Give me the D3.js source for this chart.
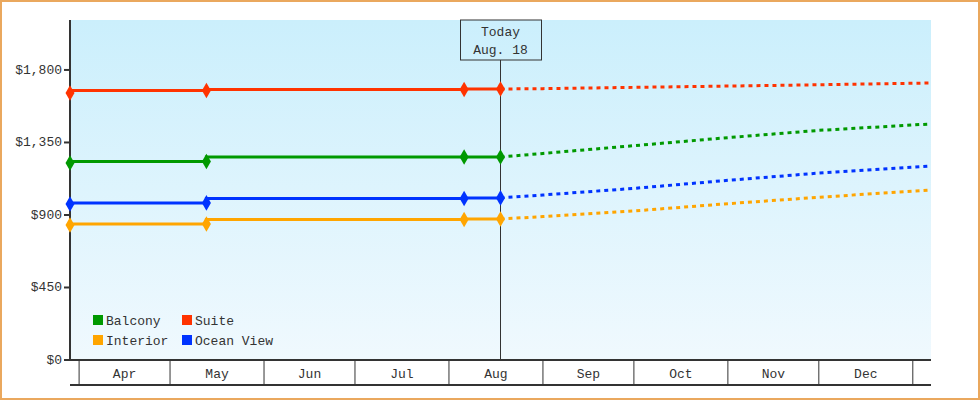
<!DOCTYPE html>
<html lang="en">
<head>
<meta charset="UTF-8">
<style>
    body { margin: 0; }
    svg { display: block; font-family: "Liberation Mono", monospace; font-size: 13px; fill: #333; }
    .frame { fill: #fff; stroke: #eaa85e; stroke-width: 2; }
    .fc { fill: none; stroke-width: 3; stroke-dasharray: 4 4; }
    .hist { fill: none; stroke-width: 3; }
</style>
</head>
<body>
<svg width="980" height="400"></svg>
<script src="https://d3js.org/d3.v7.min.js"></script>
<script>
    const parse = d3.timeParse("%Y-%m-%d");
    const histDates = ["2023-03-29", "2023-05-13", "2023-08-06", "2023-08-18"];
    const fcDates = ["2023-08-18", "2023-09-01", "2023-10-01", "2023-11-01", "2023-12-01", "2024-01-07"];
    const seriesNames = ["Suite", "Balcony", "Ocean View", "Interior"];
    const colors = ["#ff3300", "#009900", "#0033ff", "#ffa500"];
    const histValues = [
        [1657, 1673, 1679, 1682],
        [1223, 1232, 1260, 1260],
        [968, 975, 1002, 1006],
        [838, 844, 872, 875]
    ];
    const fcValues = [
        [1682, 1684, 1692, 1700, 1708, 1719],
        [1260, 1282, 1330, 1380, 1425, 1465],
        [1006, 1024, 1065, 1115, 1160, 1204],
        [875, 890, 925, 970, 1010, 1055]
    ];
    const yTicks = [0, 450, 900, 1350, 1800];
    const months = ["2023-04-01", "2023-05-01", "2023-06-01", "2023-07-01", "2023-08-01", "2023-09-01", "2023-10-01", "2023-11-01", "2023-12-01", "2024-01-01"];
    const today = "2023-08-18";
    const legendOrder = [["Balcony", "Suite"], ["Interior", "Ocean View"]];

    const L = 70, R = 931, T = 20, B = 360;
    const svg = d3.select("svg");
    svg.append("rect").attr("class", "frame").attr("x", 1).attr("y", 1).attr("width", 978).attr("height", 398);

    const grad = svg.append("defs").append("linearGradient").attr("id", "bg").attr("x1", 0).attr("x2", 0).attr("y1", 0).attr("y2", 1);
    grad.append("stop").attr("offset", 0).attr("stop-color", "#cbeffc");
    grad.append("stop").attr("offset", 1).attr("stop-color", "#f0f9fe");

    const x = d3.scaleTime().domain([parse("2023-03-29"), parse("2024-01-07")]).range([L, R]);
    const y = d3.scaleLinear().domain([0, 2110]).range([B, T]);

    svg.append("rect").attr("x", L).attr("y", T).attr("width", R - L).attr("height", B - T).attr("fill", "url(#bg)");

    // y axis
    yTicks.forEach(v => {
        svg.append("line").attr("x1", L - 6).attr("x2", L).attr("y1", y(v)).attr("y2", y(v)).attr("stroke", "#333").attr("stroke-width", 2);
        svg.append("text").attr("x", L - 8).attr("y", y(v) + 4).attr("text-anchor", "end").text("$" + d3.format(",")(v));
    });
    svg.append("line").attr("x1", L).attr("x2", L).attr("y1", T).attr("y2", B).attr("stroke", "#333").attr("stroke-width", 2);

    // month axis
    svg.append("line").attr("x1", L).attr("x2", R).attr("y1", B).attr("y2", B).attr("stroke", "#333").attr("stroke-width", 2);
    svg.append("line").attr("x1", L).attr("x2", R).attr("y1", 385).attr("y2", 385).attr("stroke", "#333").attr("stroke-width", 2);
    const md = months.map(parse);
    md.forEach((d, i) => {
        svg.append("line").attr("x1", x(d)).attr("x2", x(d)).attr("y1", B).attr("y2", 385).attr("stroke", "#333");
        if (i < md.length - 1) {
            svg.append("text").attr("x", (x(d) + x(md[i + 1])) / 2).attr("y", 378).attr("text-anchor", "middle")
                .text(d3.timeFormat("%b")(d));
        }
    });

    // today marker
    const tx = x(parse(today));
    svg.append("line").attr("x1", tx).attr("x2", tx).attr("y1", 60).attr("y2", B).attr("stroke", "#333");
    svg.append("rect").attr("x", tx - 40).attr("y", 20).attr("width", 81).attr("height", 40)
        .attr("fill", "none").attr("stroke", "#333");
    svg.append("text").attr("x", tx).attr("y", 36).attr("text-anchor", "middle").text("Today");
    svg.append("text").attr("x", tx).attr("y", 54).attr("text-anchor", "middle").text(d3.timeFormat("%b. %d")(parse(today)));

    const line = d3.line().x(d => x(d[0])).y(d => y(d[1]));
    const stepLine = d3.line().x(d => x(d[0])).y(d => y(d[1])).curve(d3.curveStepBefore);
    seriesNames.forEach((name, i) => {
        const hist = histDates.map((d, j) => [parse(d), histValues[i][j]]);
        const fc = fcDates.map((d, j) => [parse(d), fcValues[i][j]]);
        svg.append("path").attr("class", "fc").attr("stroke", colors[i]).attr("d", line(fc));
        svg.append("path").attr("class", "hist").attr("stroke", colors[i]).attr("d", stepLine(hist));
        svg.selectAll(null).data(hist).enter().append("path")
            .attr("d", d3.symbol(d3.symbolDiamond, 70))
            .attr("transform", d => `translate(${x(d[0])},${y(d[1])})`)
            .attr("fill", colors[i]);
    });

    // legend
    legendOrder.forEach((row, r) => {
        row.forEach((name, c) => {
            const lx = 93 + c * 89, ly = 315 + r * 20;
            svg.append("rect").attr("x", lx).attr("y", ly).attr("width", 10).attr("height", 10)
                .attr("fill", colors[seriesNames.indexOf(name)]);
            svg.append("text").attr("x", lx + 13).attr("y", ly + 10).text(name);
        });
    });
</script>
</body>
</html>
